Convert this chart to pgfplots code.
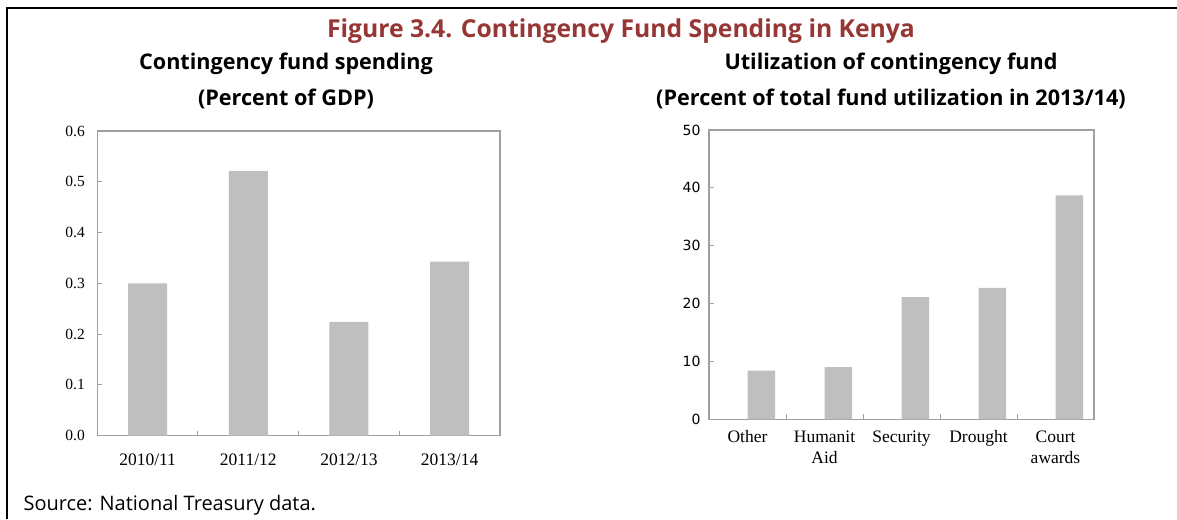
\documentclass[border=0pt]{standalone}
\usepackage{fontspec}
\setmainfont{Liberation Serif}
\newfontfamily\headfont{Open Sans}
\newfontfamily\ticksans{DejaVu Sans}
\usepackage{pgfplots}
\pgfplotsset{compat=1.18}

\definecolor{titlered}{RGB}{150,55,53}
\definecolor{axisgray}{RGB}{160,160,160}
\definecolor{barfill}{RGB}{191,191,191}

\pgfplotsset{
    kenya/.style={
        scale only axis,
        ybar,
        ymin=0,
        axis line style={axisgray, line width=1.3pt},
        tick align=inside,
        ytick pos=left,
        xtick pos=bottom,
        major tick length=5pt,
        minor tick length=5pt,
        tick style={axisgray, line width=1pt},
        major x tick style={draw=none},
        /pgf/number format/assume math mode=true,
        xticklabel style={font=\fontsize{17.5}{21}\selectfont, align=center, anchor=north},
    }
}

\begin{document}
\begin{tikzpicture}[x=1pt, y=1pt]
\path[use as bounding box] (0,0) rectangle (1177,519);

% frame
\draw[line width=2.5pt] (7,0) -- (7,511) -- (1177,511);

% titles
\node[font=\headfont\bfseries\fontsize{24.7}{25}\selectfont, text=titlered] at (621,488) {Figure 3.4. Contingency Fund Spending in Kenya};
\node[font=\headfont\bfseries\fontsize{21.6}{22}\selectfont] at (286,455) {Contingency fund spending};
\node[font=\headfont\bfseries\fontsize{21.6}{22}\selectfont] at (286,420) {(Percent of GDP)};
\node[font=\headfont\bfseries\fontsize{21.6}{22}\selectfont] at (891,455) {Utilization of contingency fund};
\node[font=\headfont\bfseries\fontsize{21.6}{22}\selectfont] at (891,420) {(Percent of total fund utilization in 2013/14)};
\node[font=\headfont\fontsize{20}{21}\selectfont, anchor=west] at (20,14) {Source: National Treasury data.};

% left: spending in percent of GDP
\begin{axis}[
    kenya,
    at={(97.3pt,83.3pt)}, anchor=south west,
    width=402.7pt, height=304.7pt,
    xmin=-0.5, xmax=3.5,
    ymax=0.6,
    ytick={0,0.1,0.2,0.3,0.4,0.5,0.6},
    yticklabel style={font=\fontsize{15.5}{16}\selectfont, xshift=-9pt,
        /pgf/number format/fixed, /pgf/number format/zerofill, /pgf/number format/precision=1},
    xtick={0,1,2,3},
    xticklabels={2010/11, 2011/12, 2012/13, 2013/14},
    minor xtick={0.5,1.5,2.5},
    xticklabel style={yshift=-15pt},
    bar width=39pt,
]
\addplot[fill=barfill, draw=none] coordinates {
    (0, 0.30)
    (1, 0.521)
    (2, 0.224)
    (3, 0.343)};
\end{axis}

% right: utilization in 2013/14
\begin{axis}[
    kenya,
    at={(709pt,99.7pt)}, anchor=south west,
    width=385pt, height=289.3pt,
    xmin=-0.5, xmax=4.5,
    ymax=50,
    ytick={0,10,20,30,40,50},
    yticklabel style={font=\ticksans\fontsize{14}{15}\selectfont, xshift=-5pt},
    xtick={0,1,2,3,4},
    xticklabels={Other, Humanit\\Aid, Security, Drought, Court\\awards},
    minor xtick={0.5,1.5,2.5,3.5},
    xticklabel style={yshift=-8pt},
    bar width=27.5pt,
    bar shift=13.75pt,
]
\addplot[fill=barfill, draw=none] coordinates {
    (0, 8.4)
    (1, 9.0)
    (2, 21.1)
    (3, 22.7)
    (4, 38.7)};
\end{axis}
\end{tikzpicture}
\end{document}
